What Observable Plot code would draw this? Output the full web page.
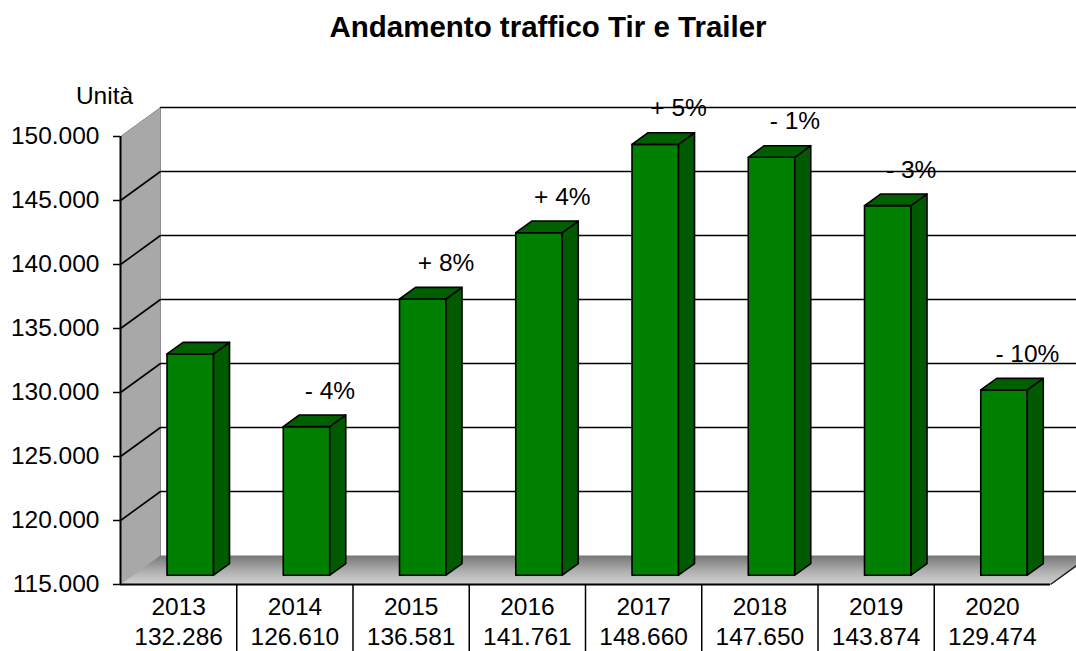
<!DOCTYPE html>
<html><head><meta charset="utf-8">
<script src="https://cdn.jsdelivr.net/npm/d3@7"></script>
<script src="https://cdn.jsdelivr.net/npm/@observablehq/plot@0.6"></script>
<style>
html,body{margin:0;padding:0;background:#fff;overflow:hidden;}
#title{height:52px;overflow:hidden;font:bold 29.5px/53px 'Liberation Sans',Arial,sans-serif;text-align:center;padding-left:20px;width:1056px;color:#000;}
</style></head><body>
<div id="title">Andamento traffico Tir e Trailer</div>
<div id="chart"></div>
<script>
// ---- data ----
const years = [2013, 2014, 2015, 2016, 2017, 2018, 2019, 2020];
const values = [132286, 126610, 136581, 141761, 148660, 147650, 143874, 129474];
const changes = [null, -4, 8, 4, 5, -1, -3, -10];
const yTicks = [115000, 120000, 125000, 130000, 135000, 140000, 145000, 150000];
const unitLabel = "Unità";

// ---- layout ----
const W = 1076, H = 599, mL = 120, mR = 26, mT = 84, mB = 67;
const FS = 24.5;
const yMin = yTicks[0], yMax = yTicks[yTicks.length - 1], n = years.length;
const catPx = (W - mL - mR) / n, valPx = (H - mT - mB) / (yMax - yMin);
const DX = 40 / catPx, DY = 29 / valPx;          // depth vector in data units
const P = (c, v, d) => ({x: c + d * DX, y: v + d * DY});
const fmt = d3.formatLocale({decimal: ",", thousands: ".", grouping: [3], currency: ["", "€"]}).format(",d");

// left wall, floor
const wall = [P(0, yMin, 0), P(0, yMax, 0), P(0, yMax, 1), P(0, yMin, 1)];
const floor = [P(0, yMin, 0), P(n, yMin, 0), P(n, yMin, 1), P(0, yMin, 1)];
const floorEdge = [{a: P(n, yMin, 0), b: P(n, yMin, 1)}];

// gridlines (left wall diagonal + back wall)
const grid = [];
yTicks.filter(t => t > yMin).forEach(t => {
  if (t < yMax) grid.push({...P(0, t, 0), id: t});
  grid.push({...P(0, t, 1), id: t});
  grid.push({...P(n, t, 1), id: t});
});

// 3D bars
const fD = 0.32, bD = 0.72, a1 = 0.29, a2 = 0.69;
const fronts = [], sides = [], tops = [];
values.forEach((v, i) => {
  const id = years[i];
  const tag = p => ({...p, id});
  fronts.push(...[P(i + a1, yMin, fD), P(i + a1, v, fD), P(i + a2, v, fD), P(i + a2, yMin, fD)].map(tag));
  sides.push(...[P(i + a2, yMin, fD), P(i + a2, v, fD), P(i + a2, v, bD), P(i + a2, yMin, bD)].map(tag));
  tops.push(...[P(i + a1, v, fD), P(i + a1, v, bD), P(i + a2, v, bD), P(i + a2, v, fD)].map(tag));
});

const chart = Plot.plot({
  width: W, height: H,
  marginLeft: mL, marginRight: mR, marginTop: mT, marginBottom: mB,
  x: {type: "linear", domain: [0, n]},
  y: {type: "linear", domain: [yMin, yMax]},
  style: {fontFamily: "'Liberation Sans', Arial, sans-serif", fontSize: FS + "px", color: "#000", background: "#fff", overflow: "hidden"},
  marks: [
    Plot.line(wall, {x: "x", y: "y", curve: "linear-closed", fill: "#a8a8a8", stroke: "#8c8c8c", strokeWidth: 1}),
    Plot.line(grid, {x: "x", y: "y", z: "id", stroke: "#000", strokeWidth: 1.6}),
    Plot.line(floor, {x: "x", y: "y", curve: "linear-closed", fill: "url(#floorGrad)", stroke: "none"}),
    Plot.link(floorEdge, {x1: d => d.a.x, y1: d => d.a.y, x2: d => d.b.x, y2: d => d.b.y, stroke: "#222", strokeWidth: 1.5}),
    Plot.line(fronts, {x: "x", y: "y", z: "id", curve: "linear-closed", fill: "#008000", stroke: "#000", strokeWidth: 1.6}),
    Plot.line(sides, {x: "x", y: "y", z: "id", curve: "linear-closed", fill: "#005a00", stroke: "#000", strokeWidth: 1.6}),
    Plot.line(tops, {x: "x", y: "y", z: "id", curve: "linear-closed", fill: "#006000", stroke: "#000", strokeWidth: 1.6}),
    Plot.ruleX([0], {y1: yMin, y2: yMax, stroke: "#000", strokeWidth: 2}),
    Plot.ruleY([yMin], {x1: 0, x2: n, stroke: "#000", strokeWidth: 2}),
    Plot.axisY({ticks: yTicks, tickSize: 7, tickPadding: 14, tickFormat: fmt, fontSize: FS, label: null, strokeWidth: 1.5}),
    Plot.axisX({ticks: d3.range(1, n), tickSize: 67, tickFormat: () => "", label: null, strokeWidth: 1.5}),
    Plot.text(years, {x: (d, i) => i + 0.5, frameAnchor: "bottom", lineAnchor: "middle", dy: 22.5, text: d => String(d), fontSize: FS}),
    Plot.text(values, {x: (d, i) => i + 0.5, frameAnchor: "bottom", lineAnchor: "middle", dy: 53, text: d => fmt(d), fontSize: FS}),
    Plot.text(values, {x: (d, i) => i + 0.5, y: d => d, dx: 35, dy: -45, fontSize: FS,
      text: (d, i) => changes[i] == null ? null : (changes[i] > 0 ? "+ " : "- ") + Math.abs(changes[i]) + "%"}),
    Plot.text([unitLabel], {frameAnchor: "top-left", lineAnchor: "middle", dx: -16, dy: -40, textAnchor: "middle", fontSize: FS})
  ]
});
d3.select(chart).insert("defs", ":first-child").html(
  `<linearGradient id="floorGrad" x1="0" y1="0" x2="0" y2="1">
     <stop offset="0" stop-color="#767676"/>
     <stop offset="0.55" stop-color="#b0b0b0"/>
     <stop offset="1" stop-color="#d2d2d2"/>
   </linearGradient>`);
document.getElementById("chart").appendChild(chart);
</script></body></html>
